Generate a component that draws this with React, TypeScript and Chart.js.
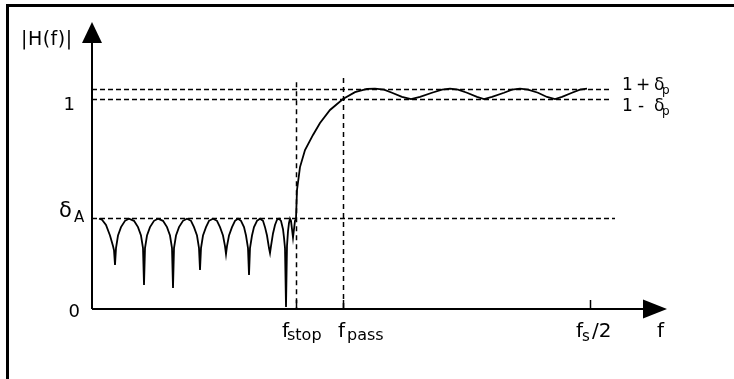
import React, { useEffect, useRef } from "react";
import { Chart, registerables } from "chart.js";

Chart.register(...registerables);

// Frequency (arbitrary units, fs/2 = 498) and |H(f)| magnitude
const FREQ = [
  7, 10, 14, 18, 21, 22, 23,
  24, 26, 29, 33, 37, 42, 46, 49, 51, 52,
  53, 55, 58, 62, 66, 71, 75, 78, 80, 81,
  82, 84, 87, 91, 95, 99, 102, 105, 107, 108,
  109, 111, 114, 117, 121, 125, 128, 131, 133, 134,
  135, 137, 140, 143, 146, 149, 152, 154, 156, 157,
  158, 160, 162, 165, 168, 171, 173, 175, 177, 178,
  179, 181, 183, 185, 187, 189, 191, 192, 193, 194,
  195, 196, 197, 198, 199, 200, 201, 202, 203, 204,
  205, 208, 213, 221, 228, 238, 251, 263, 275, 283,
  292, 300, 310, 319, 328, 340, 350, 358, 366, 375,
  385, 392, 400, 412, 420, 428, 436, 446, 455, 463,
  470, 480, 488, 495,
];
const MAG = [
  0.43, 0.425, 0.4, 0.35, 0.3, 0.28, 0.21,
  0.29, 0.35, 0.39, 0.42, 0.43, 0.42, 0.39, 0.35, 0.29, 0.114,
  0.29, 0.35, 0.39, 0.42, 0.43, 0.42, 0.39, 0.35, 0.29, 0.1,
  0.29, 0.35, 0.39, 0.42, 0.43, 0.42, 0.39, 0.35, 0.29, 0.186,
  0.29, 0.35, 0.39, 0.42, 0.43, 0.42, 0.39, 0.35, 0.3, 0.262,
  0.3, 0.35, 0.39, 0.42, 0.43, 0.42, 0.39, 0.35, 0.29, 0.162,
  0.29, 0.35, 0.39, 0.42, 0.43, 0.42, 0.39, 0.35, 0.29, 0.267,
  0.3, 0.36, 0.4, 0.425, 0.43, 0.42, 0.38, 0.34, 0.29, 0.01,
  0.3, 0.37, 0.41, 0.43, 0.42, 0.38, 0.34, 0.38, 0.42, 0.43,
  0.567, 0.676, 0.757, 0.829, 0.886, 0.948, 1.0, 1.033, 1.048, 1.05,
  1.045, 1.03, 1.01, 1.0, 1.01, 1.03, 1.045, 1.05, 1.045, 1.03,
  1.01, 1.0, 1.01, 1.03, 1.045, 1.05, 1.045, 1.03, 1.01, 1.0,
  1.01, 1.03, 1.045, 1.05,
];

const F_STOP = 204;
const F_PASS = 251;
const F_HALF = 498;
const X_MAX = 575;
const Y_MAX = 1.367;
const DELTA_A = 0.433;
const PASS_HI = 1.05;
const PASS_LO = 1.0;
const DASH_END = 520;

const FONT = "DejaVu Sans";

function text(
  ctx: CanvasRenderingContext2D,
  s: string,
  x: number,
  y: number,
  size: number,
  align: CanvasTextAlign = "left",
  spacing = 0
) {
  ctx.font = `${size}px "${FONT}"`;
  ctx.textAlign = align;
  ctx.textBaseline = "alphabetic";
  (ctx as any).letterSpacing = `${spacing}px`;
  ctx.fillText(s, x, y);
  (ctx as any).letterSpacing = "0px";
}

const diagramPlugin = {
  id: "diagram",
  beforeDatasetsDraw(chart: any) {
    const { ctx, scales } = chart;
    const xs = scales.x, ys = scales.y;
    const x0 = xs.getPixelForValue(0);
    const y0 = ys.getPixelForValue(0);
    ctx.save();
    ctx.strokeStyle = "#000";
    ctx.fillStyle = "#000";
    // frame
    ctx.lineWidth = 3;
    ctx.beginPath();
    ctx.moveTo(7.5, 379);
    ctx.lineTo(7.5, 5.5);
    ctx.lineTo(734, 5.5);
    ctx.stroke();
    // dashed lines
    ctx.lineWidth = 1.5;
    ctx.setLineDash([5, 3]);
    const xe = xs.getPixelForValue(DASH_END);
    for (const v of [PASS_HI, PASS_LO]) {
      const y = Math.round(ys.getPixelForValue(v)) + 0.5;
      ctx.beginPath();
      ctx.moveTo(x0, y);
      ctx.lineTo(xe, y);
      ctx.stroke();
    }
    {
      const y = Math.round(ys.getPixelForValue(DELTA_A)) + 0.5;
      ctx.beginPath();
      ctx.moveTo(x0, y);
      ctx.lineTo(xs.getPixelForValue(DASH_END + 3), y);
      ctx.stroke();
    }
    ctx.setLineDash([5, 4]);
    for (const [f, top] of [[F_STOP, 1.08], [F_PASS, 1.1]]) {
      const x = Math.round(xs.getPixelForValue(f)) + 0.5;
      ctx.beginPath();
      ctx.moveTo(x, ys.getPixelForValue(top));
      ctx.lineTo(x, y0);
      ctx.stroke();
    }
    ctx.setLineDash([]);
    // axes
    ctx.lineWidth = 2;
    const yTop = ys.getPixelForValue(Y_MAX);
    const xRight = xs.getPixelForValue(X_MAX);
    ctx.beginPath();
    ctx.moveTo(x0, y0);
    ctx.lineTo(x0, yTop + 20);
    ctx.moveTo(x0, y0);
    ctx.lineTo(xRight - 22, y0);
    ctx.stroke();
    ctx.beginPath();
    ctx.moveTo(x0, yTop);
    ctx.lineTo(x0 - 10, yTop + 21);
    ctx.lineTo(x0 + 10, yTop + 21);
    ctx.closePath();
    ctx.fill();
    ctx.beginPath();
    ctx.moveTo(xRight, y0);
    ctx.lineTo(xRight - 24, y0 - 9.5);
    ctx.lineTo(xRight - 24, y0 + 9.5);
    ctx.closePath();
    ctx.fill();
    // x ticks
    ctx.lineWidth = 1.5;
    for (const f of [F_STOP, F_PASS, F_HALF]) {
      const x = Math.round(xs.getPixelForValue(f)) + 0.5;
      ctx.beginPath();
      ctx.moveTo(x, y0 - 9);
      ctx.lineTo(x, y0);
      ctx.stroke();
    }
    ctx.restore();
  },
  afterDraw(chart: any) {
    const { ctx, scales } = chart;
    const xs = scales.x, ys = scales.y;
    const x0 = xs.getPixelForValue(0);
    ctx.save();
    ctx.fillStyle = "#000";
    // y labels
    text(ctx, "|H(f)|", 21, 45, 19, "left", 0.5);
    text(ctx, "1", x0 - 17, ys.getPixelForValue(PASS_LO) + 11, 18, "right");
    text(ctx, "0", x0 - 12, ys.getPixelForValue(0) + 8, 18, "right");
    const yA = ys.getPixelForValue(DELTA_A);
    text(ctx, "δ", 59, yA - 1, 21);
    text(ctx, "A", 74, yA + 4, 15);
    // x labels
    const xl = 337;
    const xStop = xs.getPixelForValue(F_STOP);
    text(ctx, "f", xStop - 14, xl, 20);
    text(ctx, "stop", xStop - 9, xl + 3, 16);
    const xPass = xs.getPixelForValue(F_PASS);
    text(ctx, "f", xPass - 5, xl, 20);
    text(ctx, "pass", xPass + 4, xl + 3, 16);
    const xHalf = xs.getPixelForValue(F_HALF);
    text(ctx, "f", xHalf - 14, xl, 20);
    text(ctx, "s", xHalf - 8, xl + 4, 15);
    text(ctx, "/2", xHalf + 2, xl, 20);
    text(ctx, "f", xs.getPixelForValue(X_MAX) - 10, xl, 20);
    // right labels
    const xr = xs.getPixelForValue(DASH_END) + 10;
    const yHi = ys.getPixelForValue(PASS_HI);
    const yLo = ys.getPixelForValue(PASS_LO);
    text(ctx, "1", xr, yHi + 1, 17);
    text(ctx, "+", xr + 14, yHi + 1, 17);
    text(ctx, "δ", xr + 32, yHi + 1, 17);
    text(ctx, "p", xr + 40, yHi + 5, 12);
    text(ctx, "1", xr, yLo + 12, 17);
    text(ctx, "-", xr + 16, yLo + 12, 17);
    text(ctx, "δ", xr + 32, yLo + 12, 17);
    text(ctx, "p", xr + 40, yLo + 16, 12);
    ctx.restore();
  },
};

export default function App() {
  const ref = useRef<HTMLCanvasElement | null>(null);
  useEffect(() => {
    if (!ref.current) return;
    const chart = new Chart(ref.current, {
      type: "line",
      data: {
        datasets: [
          {
            data: FREQ.map((f, i) => ({ x: f, y: MAG[i] })),
            borderColor: "#000",
            borderWidth: 1.8,
            pointRadius: 0,
            tension: 0,
            fill: false,
          },
        ],
      },
      options: {
        animation: false,
        responsive: false,
        devicePixelRatio: 1,
        layout: { padding: { left: 92, right: 67, top: 22, bottom: 70 } },
        plugins: { legend: { display: false }, tooltip: { enabled: false } },
        scales: {
          x: { type: "linear", min: 0, max: X_MAX, display: false },
          y: { type: "linear", min: 0, max: Y_MAX, display: false },
        },
      },
      plugins: [diagramPlugin],
    });
    return () => chart.destroy();
  }, []);
  return (
    <div style={{ position: "absolute", left: 0, top: 0, width: 734, height: 379, background: "#fff" }}>
      <canvas ref={ref} width={734} height={379} />
    </div>
  );
}
